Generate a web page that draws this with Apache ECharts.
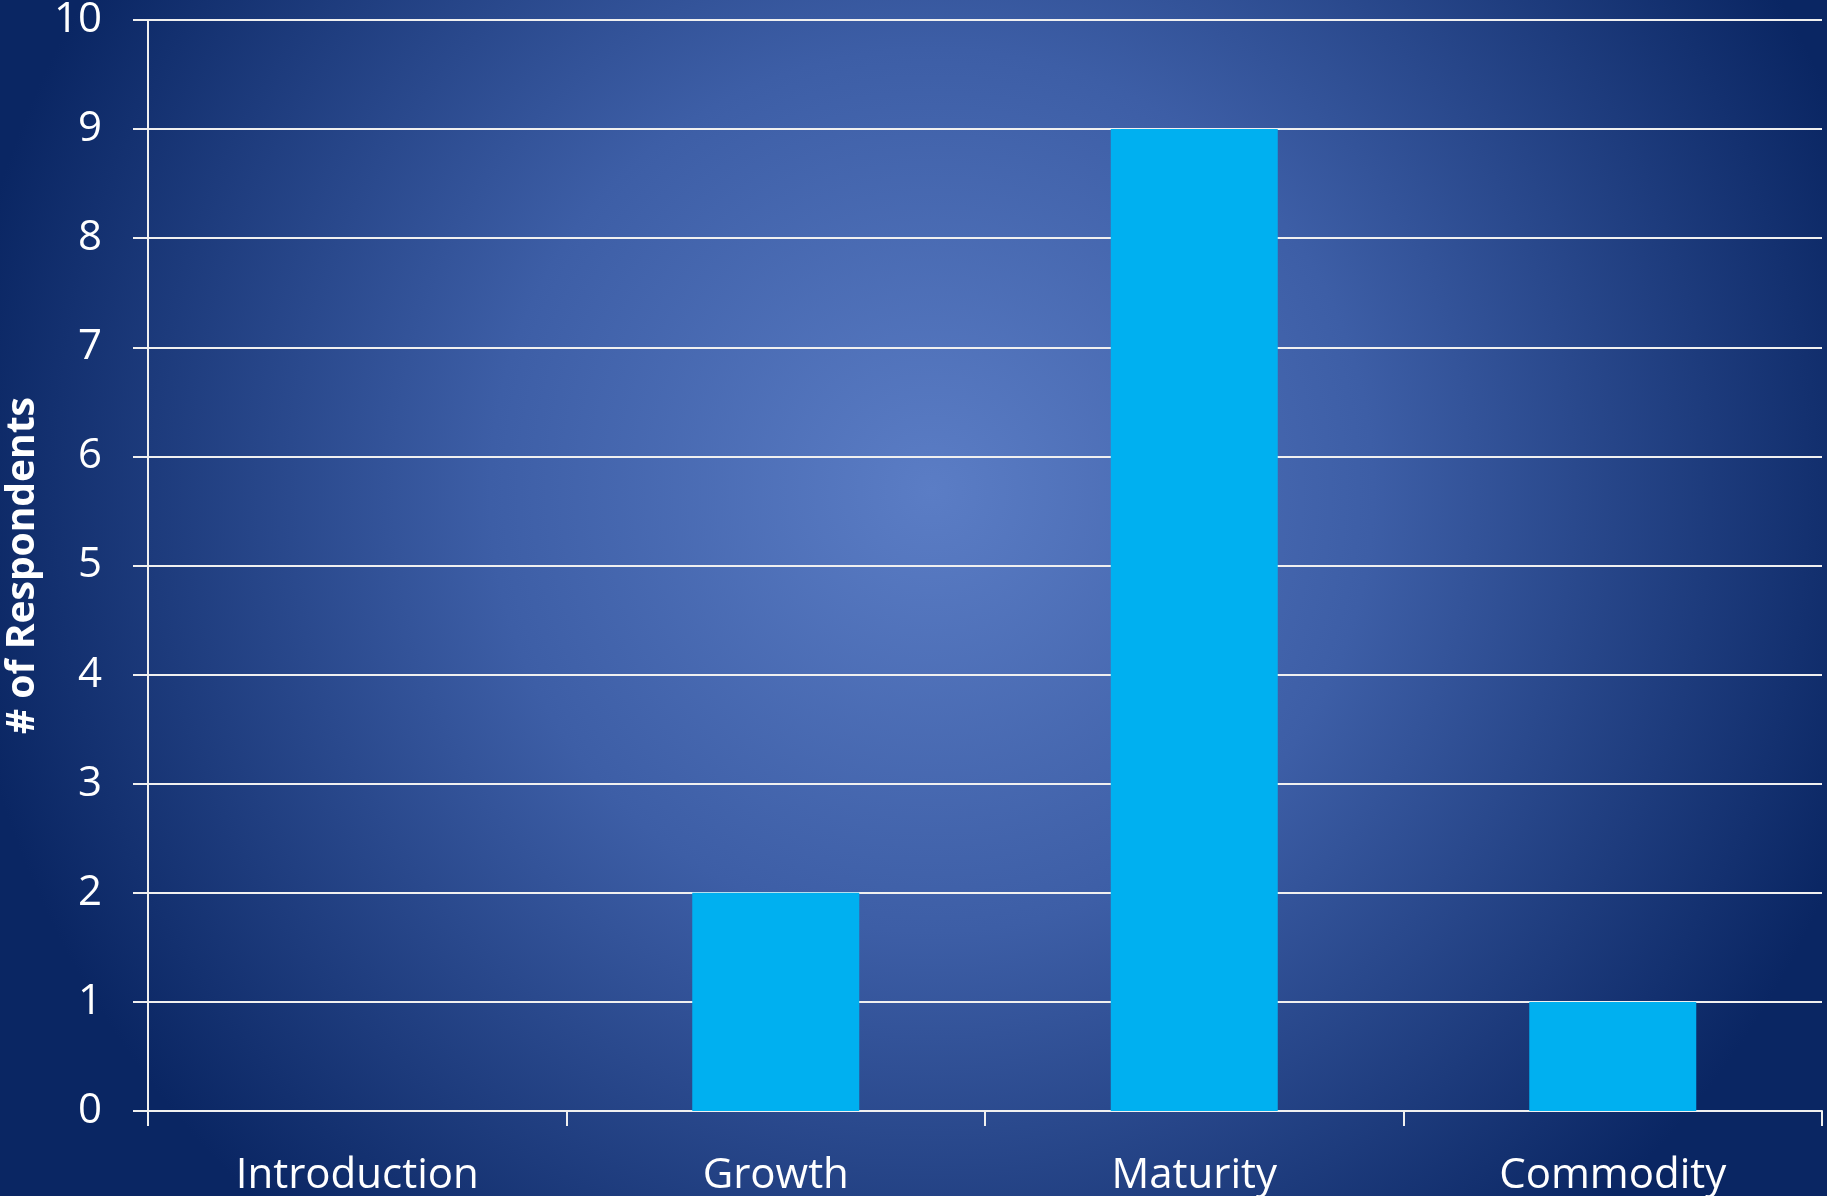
<!DOCTYPE html>
<html>
<head>
<meta charset="utf-8">
<script src="https://cdn.jsdelivr.net/npm/echarts@6/dist/echarts.min.js"></script>
<style>
  html, body { margin: 0; padding: 0; }
  #chart { width: 1827px; height: 1196px; }
</style>
</head>
<body>
<div id="chart"></div>
<script>
// 数据
var categories = ["Introduction", "Growth", "Maturity", "Commodity"];
var respondents = [0, 2, 9, 1];
var yTicks = { min: 0, max: 10, interval: 1 };

var chart = echarts.init(document.getElementById("chart"));
var font = "'Open Sans', 'Noto Sans', sans-serif";

var option = {
  backgroundColor: new echarts.graphic.RadialGradient(0.51, 0.41, 0.82, [
    { offset: 0, color: "#5b7dc5" },
    { offset: 0.45, color: "#3d5ea6" },
    { offset: 1, color: "#0a2663" }
  ]),
  grid: {
    left: 148,
    right: 5,
    top: 20,
    bottom: 85,
    containLabel: false,
    outerBoundsMode: "none"
  },
  xAxis: {
    type: "category",
    data: categories,
    axisLine: { lineStyle: { color: "#f0f0f0", width: 2 } },
    axisTick: { show: true, length: 15, interval: 0, lineStyle: { color: "#f0f0f0", width: 2 } },
    axisLabel: { color: "#ffffff", fontSize: 42, fontFamily: font, margin: 44, interval: 0 }
  },
  yAxis: {
    type: "value",
    min: yTicks.min,
    max: yTicks.max,
    interval: yTicks.interval,
    name: "# of Respondents",
    nameLocation: "middle",
    nameGap: 106,
    nameTextStyle: { color: "#ffffff", fontSize: 39, fontWeight: "bold", fontFamily: font },
    axisLine: { show: true, lineStyle: { color: "#f0f0f0", width: 2 } },
    axisTick: { show: true, length: 15, lineStyle: { color: "#f0f0f0", width: 2 } },
    axisLabel: { color: "#ffffff", fontSize: 42, fontFamily: font, margin: 46 },
    splitLine: { lineStyle: { color: "#f0f0f0", width: 2 } }
  },
  series: [
    {
      type: "bar",
      data: respondents,
      barWidth: 167,
      itemStyle: { color: "#00b0f0" }
    }
  ]
};

chart.setOption(option);
</script>
</body>
</html>
